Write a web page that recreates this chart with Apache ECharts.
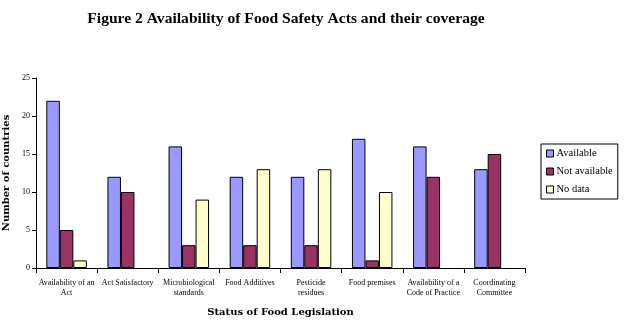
<!DOCTYPE html>
<html><head><meta charset="utf-8">
<script src="https://cdn.jsdelivr.net/npm/echarts@6/dist/echarts.min.js"></script>
<style>html,body{margin:0;padding:0;background:#fff}#c{width:628px;height:321px}</style>
</head><body><div id="c"></div>
<script>
const categories = ["Availability of an\nAct", "Act Satisfactory", "Microbiological\nstandards", "Food Additives", "Pesticide\nresidues", "Food premises", "Availability of a\nCode of Practice", "Coordinating\nCommittee"];
const available = [22, 12, 16, 12, 12, 17, 16, 13];
const notAvailable = [5, 10, 3, 3, 3, 1, 12, 15];
const noData = [1, null, 9, 13, 13, 10, null, null];
const yTicks = [0, 5, 10, 15, 20, 25];

const serif = '"Liberation Serif", "Times New Roman", serif';
const wide = '"DejaVu Serif", serif';
const chart = echarts.init(document.getElementById('c'), null, {renderer: 'canvas'});
const mk = (name, data, color) => ({
  name, type: 'bar', data, barWidth: 13.5, barGap: '0%',
  itemStyle: {color, borderColor: '#000', borderWidth: 1}
});
chart.setOption({
  animation: false,
  title: {
    text: 'Figure 2 Availability of Food Safety Acts and their coverage',
    left: 281, textAlign: 'center', top: 6,
    textStyle: {fontFamily: serif, fontWeight: 'bold', fontSize: 15.6, color: '#000'}
  },
  legend: {
    orient: 'vertical', left: 541, top: 144, width: 80, height: 52,
    padding: [4, 5, 4, 5], itemGap: 7,
    borderColor: '#000', borderWidth: 1,
    itemWidth: 7, itemHeight: 7, icon: 'rect',
    itemStyle: {borderColor: '#000', borderWidth: 1},
    textStyle: {fontFamily: serif, fontSize: 10.5, color: '#000', padding: [0, 0, 0, -2]},
    data: ['Available', 'Not available', 'No data']
  },
  grid: {left: 36, right: 103, top: 78, bottom: 53, containLabel: false, outerBoundsMode: 'none'},
  xAxis: {
    type: 'category', data: categories,
    name: 'Status of Food Legislation', nameLocation: 'middle', nameGap: 39,
    nameTextStyle: {fontFamily: wide, fontWeight: 'bold', fontSize: 10, color: '#000'},
    axisLine: {lineStyle: {color: '#000', width: 1}},
    axisTick: {show: true, alignWithLabel: false, length: 5, lineStyle: {color: '#000'}},
    axisLabel: {interval: 0, fontFamily: serif, fontSize: 8, color: '#000', margin: 10, lineHeight: 10}
  },
  yAxis: {
    type: 'value', min: 0, max: 25, interval: 5,
    name: 'Number of countries', nameLocation: 'middle', nameGap: 24, nameRotate: 90,
    nameTextStyle: {fontFamily: wide, fontWeight: 'bold', fontSize: 10, color: '#000'},
    axisLine: {show: true, lineStyle: {color: '#000', width: 1}},
    axisTick: {show: true, length: 4, lineStyle: {color: '#000'}},
    axisLabel: {fontFamily: serif, fontSize: 8, color: '#000', margin: 6,
      formatter: v => yTicks.includes(v) ? String(v) : ''},
    splitLine: {show: false}
  },
  series: [
    mk('Available', available, '#9999FF'),
    mk('Not available', notAvailable, '#993366'),
    mk('No data', noData, '#FFFFCC')
  ]
});
</script>
</body></html>
